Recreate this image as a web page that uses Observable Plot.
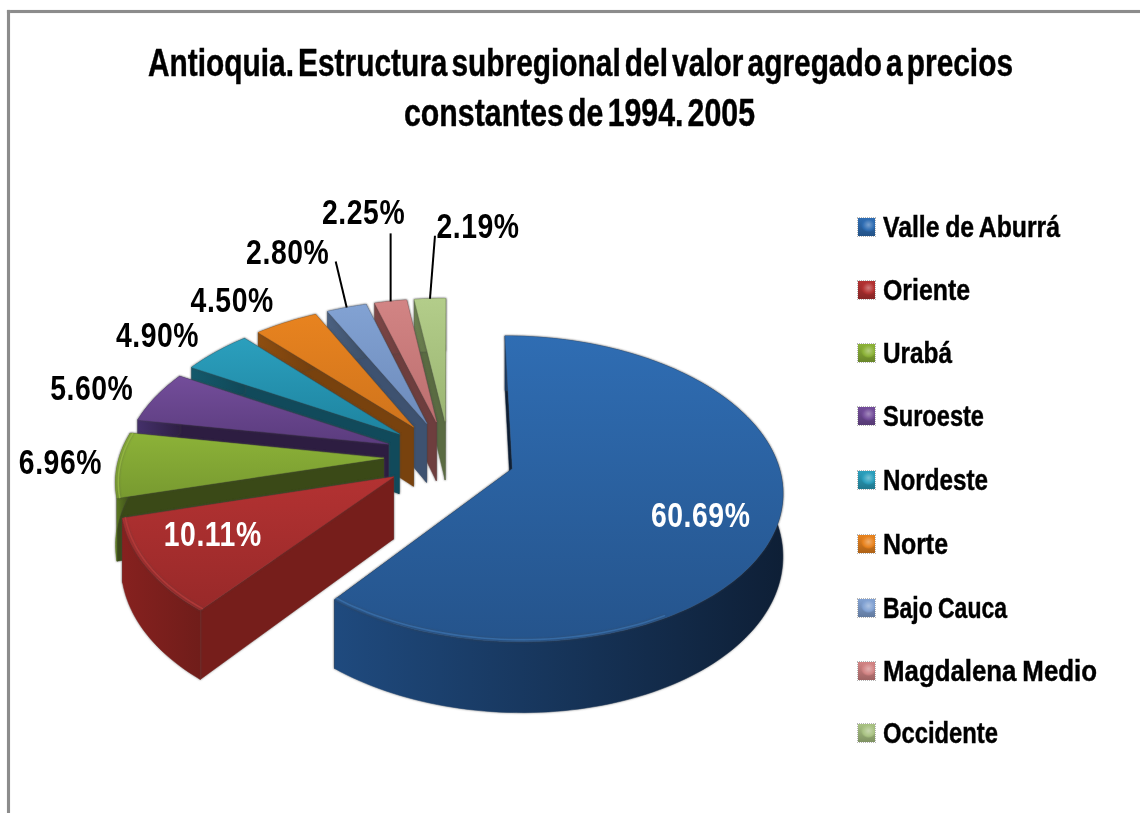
<!DOCTYPE html>
<html lang="es"><head><meta charset="utf-8">
<script src="https://cdn.jsdelivr.net/npm/d3@7"></script>
<script src="https://cdn.jsdelivr.net/npm/@observablehq/plot@0.6"></script>
<style>
html,body{margin:0;padding:0;background:#fff;overflow:hidden}
#page{position:relative;width:1140px;height:813px;overflow:hidden;font-family:"Liberation Sans",Arial,sans-serif;font-weight:700;color:#000}
#frameT{position:absolute;left:7px;right:0;top:10px;height:3px;background:#8c8c8c;box-shadow:0 0 1px #bbb}
#frameL{position:absolute;left:7px;top:10px;bottom:0;width:3px;background:#8c8c8c;box-shadow:0 0 1px #bbb}
.t{position:absolute;white-space:nowrap;transform-origin:0 50%;filter:blur(.35px);-webkit-text-stroke:.45px #000}
.sw{position:absolute;left:858px;width:17px;height:18px;box-sizing:border-box}
#chart{position:absolute;left:0;top:0}
</style></head><body>
<div id="page"><div id="frameT"></div><div id="frameL"></div><div id="chart"></div></div>
<script>
// ---- data ----
const regions = ["Valle de Aburrá","Oriente","Urabá","Suroeste","Nordeste","Norte","Bajo Cauca","Magdalena Medio","Occidente"];
const shares  = [60.69,10.11,6.96,5.60,4.90,4.50,2.80,2.25,2.19];
const titleLines = ["Antioquia. Estructura subregional del valor agregado a precios","constantes de 1994. 2005"];
// ---- styles ----
const topFrom  = ["#2f6db3","#b33232","#8cb238","#734d9a","#2b9fbd","#e8831f","#82a2d3","#d28484","#b3cd8a"];
const topTo    = ["#25548c","#982929","#789a30","#5b3c7e","#1e84a0","#d0741c","#6d8bbb","#bc6f6f","#9bb572"];
const wallFrom = ["#1f4a7e","#86211f","#5d7a24","#44306a","#14596b","#8e4e10","#4a6080","#7d4747","#6c8050"];
const wallTo   = ["#0e1f36","#701d1a","#3d4e18","#2e1f44","#114858","#723e0e","#3e5068","#6b3c3c","#5a6b42"];
const radial   = ["#0b1d34","#761e1b","#3a4917","#2d1d41","#114a5b","#78420e","#3e5270","#6e3e3e","#5a6b42"];
const bevel    = ["#3b75b5","#c23c3a","#9cc244","#8160a8","#3aaecb","#f09030","#95b2dd","#dd9898","#c0d89a"];
const sw       = ["#2f6db3","#b33232","#8cb238","#734d9a","#2b9fbd","#e8831f","#82a2d3","#d28484","#a9c283"];
// ---- projection of the tilted pie (ground units -> plot units) ----
const W=1140,H=813,cx=449,cy=456,R=264,A=147,persp=.13,explode=.25,thick=61/147;
const rad=d=>d*Math.PI/180;
const total=d3.sum(shares);
let acc=0;
const slices=shares.map((v,i)=>{const a0=acc/total*360;acc+=v;const a1=acc/total*360;return {i,v,a0,a1,m:(a0+a1)/2};});
function P(sl,th,r=1,down=0){
  const X=explode*Math.sin(rad(sl.m))+r*Math.sin(rad(th));
  const V=explode*Math.cos(rad(sl.m))+r*Math.cos(rad(th));
  const s=1/(1+persp*V);
  return {x:X*s,y:(V-down*thick)*s};
}
const marks=[];
function face(pts,fill){marks.push(Plot.line(pts,{x:"x",y:"y",fill,stroke:fill,strokeWidth:.5,curve:"linear"}));}
for(const sl of [...slices].reverse()){
  const n=Math.max(8,Math.round((sl.a1-sl.a0)/1.5));
  const ths=d3.range(n+1).map(k=>sl.a0+(sl.a1-sl.a0)*k/n);
  const apexT=P(sl,0,0,0),apexB=P(sl,0,0,1);
  const arcT=ths.map(t=>P(sl,t,1,0)),arcB=ths.map(t=>P(sl,t,1,1));
  const c=sl.i;
  face([apexT,arcT[n],arcB[n],apexB,apexT],radial[c]);
  face([apexT,arcT[0],arcB[0],apexB,apexT],radial[c]);
  face([...arcT,...[...arcB].reverse(),arcT[0]],`url(#w${c})`);
  face([apexT,...arcT,apexT],`url(#t${c})`);
  const front=ths.filter(t=>t>150).map(t=>P(sl,t,.99,0));
  if(front.length>1 && c<3) marks.push(Plot.line(front,{x:"x",y:"y",stroke:bevel[c],strokeWidth:1.6,strokeOpacity:.7}));
}
// ---- labels ----
const labelOffset=[[-78,-5],[66,-33],[-57,-2],[-64,-8],[-59,-16],[-54,-22],[-59,-55],[-27,-89],[48,-72]];
const leaderEnd={6:[-11,-46],7:[0,-68],8:[5,-63]};
const labels=slices.map(sl=>{const p=P(sl,sl.m,1,0),o=labelOffset[sl.i];return {x:p.x+o[0]/R,y:p.y-o[1]/A,text:sl.v.toFixed(2)+"%",inside:sl.i<2};});
const leaders=Object.keys(leaderEnd).map(k=>{const sl=slices[+k],p=P(sl,sl.m,1,0),o=leaderEnd[k];return {x1:p.x,y1:p.y,x2:p.x+o[0]/R,y2:p.y-o[1]/A};});
marks.push(Plot.link(leaders,{x1:"x1",y1:"y1",x2:"x2",y2:"y2",stroke:"#000",strokeWidth:2}));
const labelFont={fontFamily:'"Liberation Sans",Arial,sans-serif',fontWeight:700,fontSize:35};
marks.push(Plot.text(labels.filter(d=>!d.inside),{x:"x",y:"y",text:"text",fill:"#000",...labelFont}));
marks.push(Plot.text(labels.filter(d=>d.inside),{x:"x",y:"y",text:"text",fill:"#fff",...labelFont}));

const svg=Plot.plot({width:W,height:H,margin:0,axis:null,
  x:{domain:[-cx/R,(W-cx)/R],range:[0,W]},
  y:{domain:[cy/A,(cy-H)/A],range:[0,H]},
  style:{background:"transparent",filter:"blur(.4px)"},
  marks});
// condensed data labels
d3.select(svg).selectAll('g[aria-label="text"] text').each(function(){
  this.setAttribute("transform",(this.getAttribute("transform")||"")+" scale(.81,1)");
  this.style.letterSpacing=".02em";
});
d3.select(svg).selectAll('g[aria-label="line"]').style("filter","drop-shadow(0 0 1.2px rgba(70,70,70,.65))");
// gradients
const defs=d3.select(svg).insert("defs",":first-child");
regions.forEach((_,c)=>{
  const a=defs.append("linearGradient").attr("id","t"+c).attr("x1",0).attr("y1",0).attr("x2",0).attr("y2",1);
  a.append("stop").attr("offset",0).attr("stop-color",topFrom[c]);
  a.append("stop").attr("offset",1).attr("stop-color",topTo[c]);
  const b=defs.append("linearGradient").attr("id","w"+c).attr("x1",0).attr("y1",0).attr("x2",1).attr("y2",0);
  b.append("stop").attr("offset",0).attr("stop-color",wallFrom[c]);
  b.append("stop").attr("offset",1).attr("stop-color",wallTo[c]);
});
document.getElementById("chart").appendChild(svg);
// ---- title & legend ----
const page=document.getElementById("page");
function addText(txt,left,mid,size,width,ws){
  const e=document.createElement("div");e.className="t";e.textContent=txt;
  e.style.fontSize=size+"px";e.style.left=left+"px";e.style.top=mid+"px";e.style.wordSpacing=ws;
  page.appendChild(e);
  const w=e.getBoundingClientRect().width,h=e.getBoundingClientRect().height;
  e.style.top=(mid-h/2)+"px";
  e.style.transform=`scaleX(${width/w})`;
}
addText(titleLines[0],148,63,39,865,"-.14em");
addText(titleLines[1],404,113,39,351,"-.14em");
const rowY=[227,290,353,416,480,544,608,671,733];
const legendW=[177,87,69,101,105,65,124,214,115];
regions.forEach((r,i)=>{
  const s=document.createElement("div");s.className="sw";s.style.top=(rowY[i]-9)+"px";
  const c=sw[i],d=d3.color(c).darker(.8),l=d3.interpolateRgb(c,"#fff")(.35);
  s.style.background=`radial-gradient(ellipse 45% 40% at 62% 38%, ${l} 0, ${c} 75%, transparent 100%), linear-gradient(${c}, ${d})`;
  s.style.outline="1px dotted rgba(120,120,120,.55)";
  s.style.filter="blur(.4px)";
  page.appendChild(s);
  addText(r,883,rowY[i],30,legendW[i],"-.05em");
});
</script></body></html>
